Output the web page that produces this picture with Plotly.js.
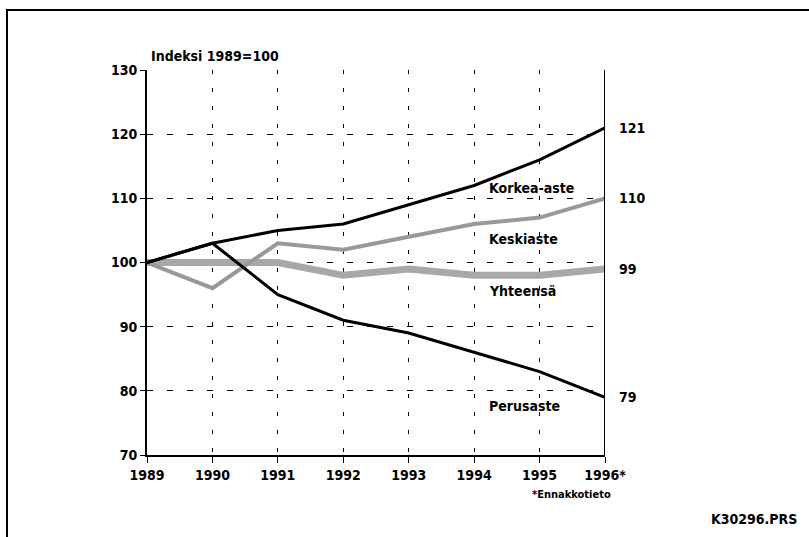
<!DOCTYPE html>
<html>
<head>
<meta charset="utf-8">
<script src="https://cdn.plot.ly/plotly-3.0.1.min.js"></script>
<style>
  body { margin: 0; background: #fff; }
  #plot { width: 809px; height: 537px; }
</style>
</head>
<body>
<div id="plot"></div>
<script>
// Indeksi 1989=100
var years = [1989, 1990, 1991, 1992, 1993, 1994, 1995, 1996];
var yearLabels = ["1989", "1990", "1991", "1992", "1993", "1994", "1995", "1996*"];
var korkeaaste = [100, 103, 105, 106, 109, 112, 116, 121];
var keskiaste = [100, 96, 103, 102, 104, 106, 107, 110];
var yhteensa = [100, 100, 100, 98, 99, 98, 98, 99];
var perusaste = [100, 103, 95, 91, 89, 86, 83, 79];

var font = "'DejaVu Sans Condensed', 'Liberation Sans Narrow', sans-serif";

var traceYht = {
  x: years, y: yhteensa, mode: "lines", type: "scatter", name: "Yhteensä",
  line: { color: "#a8a8a8", width: 7 }
};
var traceKesk = {
  x: years, y: keskiaste, mode: "lines", type: "scatter", name: "Keskiaste",
  line: { color: "#999", width: 4 }
};
var traceKork = {
  x: years, y: korkeaaste, mode: "lines", type: "scatter", name: "Korkea-aste",
  line: { color: "#000", width: 3 }
};
var tracePerus = {
  x: years, y: perusaste, mode: "lines", type: "scatter", name: "Perusaste",
  line: { color: "#000", width: 3 }
};

var data = [traceYht, traceKesk, traceKork, tracePerus];

var labelFont = { family: font, size: 14, color: "#000", weight: "bold" };

function seriesLabel(text, y) {
  return { x: 1994.2, y: y, xref: "x", yref: "y", text: text, showarrow: false,
           xanchor: "left", yanchor: "middle", font: labelFont };
}
function endLabel(i, series) {
  return { x: years[i], y: series[i], xref: "x", yref: "y", text: String(series[i]),
           showarrow: false, xanchor: "left", xshift: 12, yanchor: "middle", font: labelFont };
}
var last = years.length - 1;

var layout = {
  width: 809,
  height: 537,
  margin: { l: 147, r: 204, t: 70, b: 82 },
  paper_bgcolor: "#fff",
  plot_bgcolor: "#fff",
  showlegend: false,
  font: { family: font, size: 14, color: "#000" },
  xaxis: {
    range: [1989, 1996],
    tickvals: years,
    ticktext: yearLabels,
    tickfont: labelFont,
    ticks: "outside",
    ticklen: 6,
    tickcolor: "#000",
    showline: true,
    linecolor: "#000",
    linewidth: 2,
    showgrid: true,
    gridcolor: "#000",
    gridwidth: 1,
    griddash: "4px,14px",
    zeroline: false,
    fixedrange: true
  },
  yaxis: {
    range: [70, 130],
    dtick: 10,
    tickfont: labelFont,
    ticks: "outside",
    ticklen: 5,
    tickcolor: "#000",
    showline: true,
    linecolor: "#000",
    linewidth: 2,
    showgrid: true,
    gridcolor: "#000",
    gridwidth: 1,
    griddash: "6px,14px",
    zeroline: false,
    fixedrange: true
  },
  shapes: [
    { type: "line", xref: "x", yref: "paper", x0: 1996, x1: 1996, y0: 0, y1: 1,
      line: { color: "#000", width: 2 } },
    { type: "path", xref: "paper", yref: "paper",
      path: "M -0.3057,-0.22 L -0.3057,1.156 L 1.46,1.156",
      line: { color: "#000", width: 2 } }
  ],
  annotations: [
    { x: 0, y: 1, xref: "paper", yref: "paper", text: "Indeksi 1989=100", showarrow: false,
      xanchor: "left", yanchor: "bottom", xshift: 2, yshift: 4, font: labelFont },
    seriesLabel("Korkea-aste", 111.6),
    seriesLabel("Keskiaste", 103.6),
    seriesLabel("Yhteensä", 95.5),
    seriesLabel("Perusaste", 77.7),
    endLabel(last, korkeaaste),
    endLabel(last, keskiaste),
    endLabel(last, yhteensa),
    endLabel(last, perusaste),
    { x: 1996, y: 0, xref: "x", yref: "paper", text: "*Ennakkotieto", showarrow: false,
      xanchor: "right", yanchor: "top", xshift: 8, yshift: -31,
      font: { family: font, size: 11, color: "#000", weight: "bold" } },
    { x: 1, y: 0, xref: "paper", yref: "paper", text: "K30296.PRS", showarrow: false,
      xanchor: "right", yanchor: "top", xshift: 194, yshift: -54,
      font: { family: font, size: 14, color: "#000", weight: "bold" } }
  ]
};

Plotly.newPlot("plot", data, layout, { staticPlot: true });
</script>
</body>
</html>
